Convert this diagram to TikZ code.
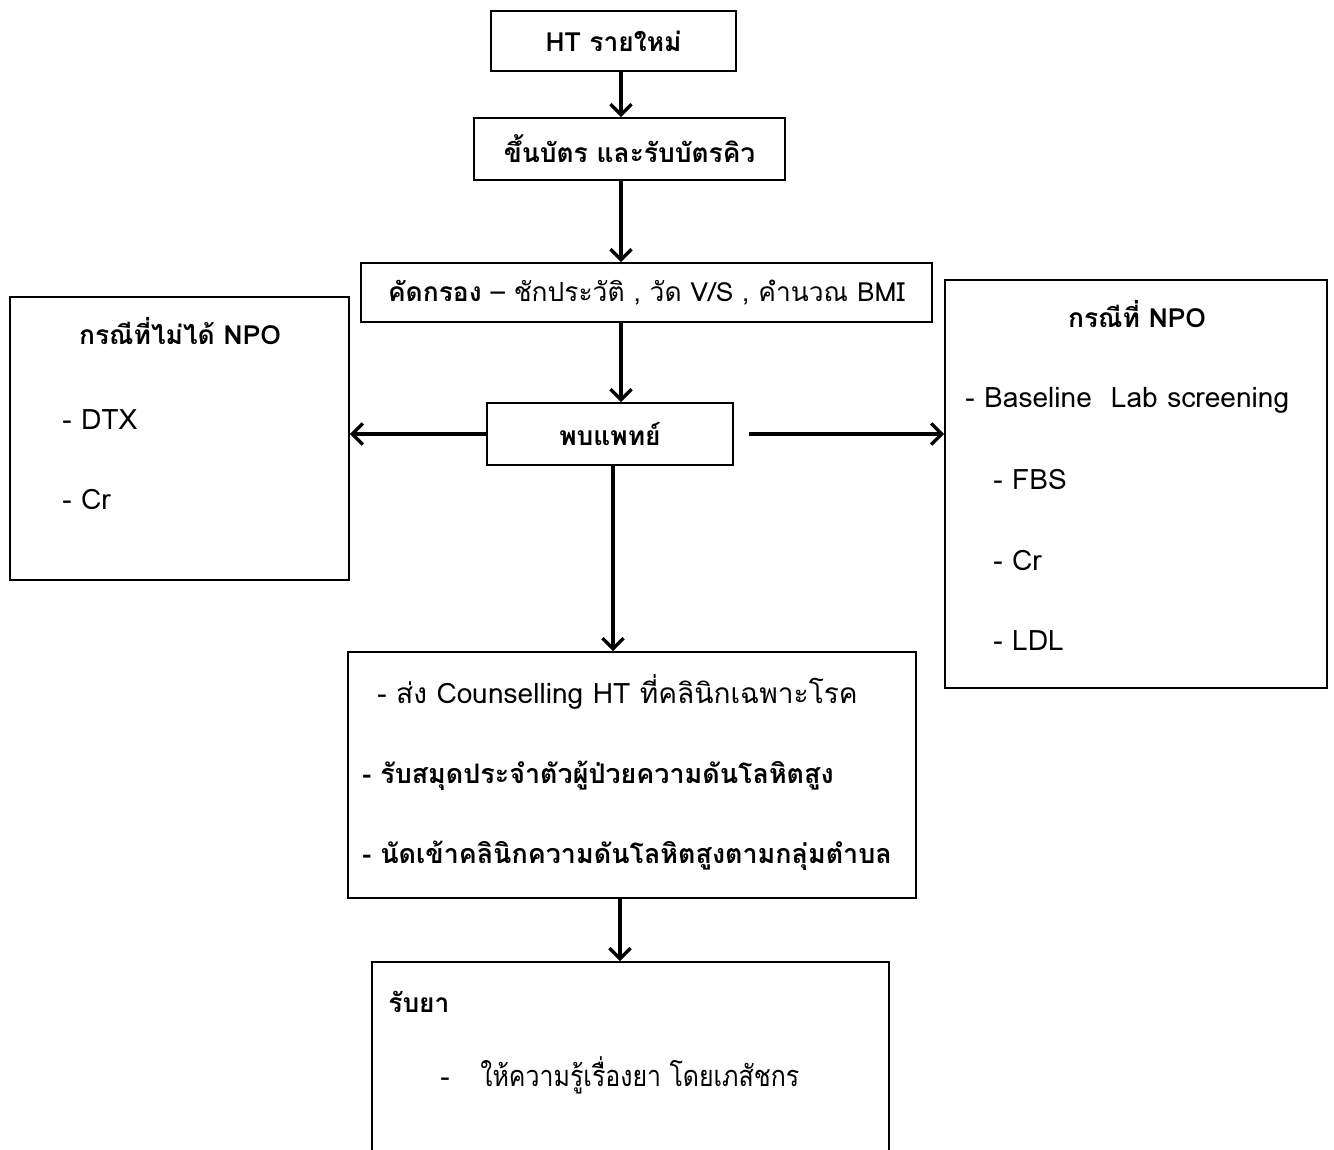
\documentclass[tikz,border=0pt]{standalone}
\usepackage{fontspec}
\setmainfont[Script=Thai]{Loma}
\usetikzlibrary{arrows.meta}
\newlength\px
\setlength\px{0.02cm}
\begin{document}
\begin{tikzpicture}[x=0.02cm,y=-0.02cm,
  box/.style={draw, line width=1.1pt, inner sep=0pt},
  arr/.style={line width=1.9pt, -{Straight Barb[length=6pt,width=12pt,line width=1.9pt]}},
  txt/.style={inner sep=0pt, font=\fontsize{15}{18}\selectfont},
  bold/.style={font=\fontsize{15}{18}\selectfont\bfseries},
  item/.style={inner sep=0pt, anchor=base west, font=\fontsize{16}{19}\selectfont},
]
\useasboundingbox (0,0) rectangle (1334,1149);
\clip (0,0) rectangle (1334,1149);

% main column
\node[box, txt, bold, minimum width=245\px, minimum height=60\px] (b1) at (613.5,41) {HT รายใหม่};
\node[box, txt, bold, minimum width=311\px, minimum height=62\px] (b2) at (629.5,149) {ขึ้นบัตร และรับบัตรคิว};
\node[box, txt, minimum width=571\px, minimum height=59\px] (b3) at (646.5,292.5) {\textbf{คัดกรอง} – ชักประวัติ , วัด V/S , คำนวณ BMI};
\node[box, txt, bold, minimum width=246\px, minimum height=62\px] (b4) at (610,434) {พบแพทย์};

% side boxes
\node[box, minimum width=339\px, minimum height=283\px] (L) at (179.5,438.5) {};
\node[txt, bold, anchor=base] (Lh) at (180,344) {กรณีที่ไม่ได้ NPO};
\node[item] (L1) at (62,429) {- DTX};
\node[item] (L2) at (62,509) {- Cr};

\node[box, minimum width=382\px, minimum height=408\px] (R) at (1136,484) {};
\node[txt, bold, anchor=base] (Rh) at (1137,327) {กรณีที่ NPO};
\node[item] (R1) at (965,407) {- Baseline~~Lab screening};
\node[item] (R2) at (993,489) {- FBS};
\node[item] (R3) at (993,570) {- Cr};
\node[item] (R4) at (993,650) {- LDL};

% follow-up box
\node[box, minimum width=568\px, minimum height=246\px] (b5) at (632,775) {};
\node[item] (b5a) at (377,703) {- ส่ง Counselling HT ที่คลินิกเฉพาะโรค};
\node[item, font=\fontsize{15.3}{18}\selectfont\bfseries] (b5b) at (362,783) {- รับสมุดประจำตัวผู้ป่วยความดันโลหิตสูง};
\node[item, font=\fontsize{15.3}{18}\selectfont\bfseries] (b5c) at (362,863) {- นัดเข้าคลินิกความดันโลหิตสูงตามกลุ่มตำบล};

% medication box (runs past the lower edge)
\node[box, minimum width=517\px, minimum height=238\px] (b6) at (630.5,1081) {};
\node[item, bold] (b6a) at (388,1012) {รับยา};
\node[item] (b6d) at (440,1086) {-};
\node[item, font=\fontsize{16.5}{19}\selectfont] (b6b) at (480,1086) {\scalebox{0.86}[1]{ให้ความรู้เรื่องยา โดยเภสัชกร}};

% connectors
\coordinate (c1) at (621,0);
\coordinate (c2) at (613,0);
\coordinate (c3) at (620,0);
\draw[arr] (b1.south -| c1) -- (b2.north -| c1);
\draw[arr] (b2.south -| c1) -- (b3.north -| c1);
\draw[arr] (b3.south -| c1) -- (b4.north -| c1);
\draw[arr] (b4.south -| c2) -- (b5.north -| c2);
\draw[arr] (b5.south -| c3) -- (b6.north -| c3);
\draw[arr] (b4.west) -- (b4.west -| L.east);
\draw[arr, shorten <=15\px] (b4.east) -- (b4.east -| R.west);
\end{tikzpicture}
\end{document}
